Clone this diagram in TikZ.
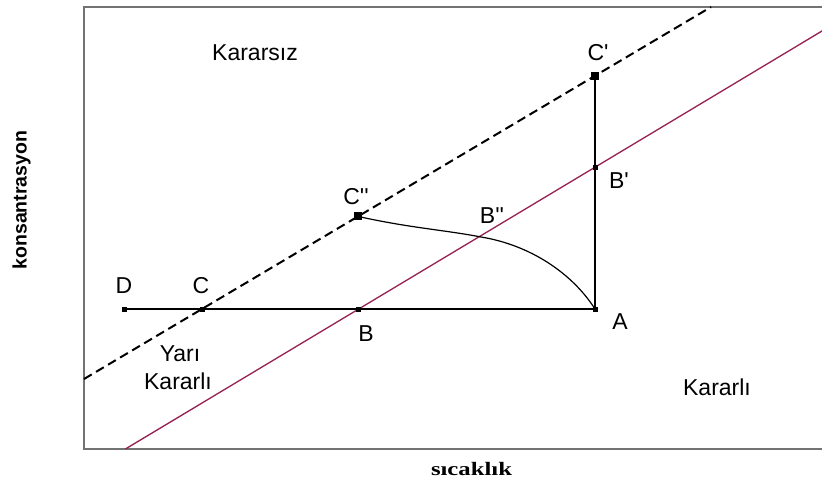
\documentclass[tikz,border=0pt]{standalone}
\usepackage{fontspec}
\setmainfont{Liberation Sans}
\newfontfamily\axserif[FakeStretch=1.3]{Liberation Serif}
\definecolor{redline}{RGB}{150,30,80}
\begin{document}
\begin{tikzpicture}[x=1pt,y=-1pt,
  lab/.style={anchor=base, font=\fontsize{23}{25}\selectfont, inner sep=0pt},
  sqs/.style={rectangle, fill=black, draw=none, minimum size=5pt, inner sep=0pt},
  sqb/.style={rectangle, fill=black, draw=none, minimum size=8pt, inner sep=0pt},
  frame/.style={draw=black!55, line width=1.2pt},
  solid line/.style={draw=black, line width=1.4pt},
  dash line/.style={draw=black, line width=2pt, dash pattern=on 9pt off 5pt},
  red line/.style={draw=redline, line width=1.3pt}
]
\useasboundingbox (0,0) rectangle (822,479);
\clip (0,0) rectangle (822,479);
\fill[white] (0,0) rectangle (822,479);

% frame
\coordinate (f1) at (840,7);
\coordinate (f2) at (84,7);
\coordinate (f3) at (84,449);
\coordinate (f4) at (840,449);
\draw[frame] (f1) -- (f2) -- (f3) -- (f4);

% line ends
\coordinate (dl) at (84,379);
\coordinate (dr) at (711,7);
\coordinate (rl) at (125.4,449);
\coordinate (rr) at (835,23.2);
\coordinate (Bpp) at (481,237);

% points
\node[sqs] (D) at (124,309) {};
\node[sqs] (C) at (202,309) {};
\node[sqs] (B) at (358.7,309) {};
\node[sqs] (A) at (595,309) {};
\node[sqs] (Bp) at (595,167.2) {};
\node[sqb] (Cp) at (595,75.8) {};
\node[sqb] (Cpp) at (358,216.4) {};

% lines
\draw[red line] (rl) -- (rr);
\draw[dash line] (dl) -- (dr);
\draw[solid line] (D.center) -- (A.center);
\draw[solid line] (A.center) -- (Cp.center);
\draw[draw=black, line width=1.2pt] (Cpp.center) .. controls (410,228) and (445,230) .. (Bpp)
   .. controls (530,245) and (572,273) .. (A.center);

% redraw markers on top
\node[sqs] at (D) {};
\node[sqs] at (C) {};
\node[sqs] at (B) {};
\node[sqs] at (A) {};
\node[sqs] at (Bp) {};
\node[sqb] at (Cp) {};
\node[sqb] at (Cpp) {};

% labels
\node[lab] (lD) at (124,293) {D};
\node[lab] (lC) at (201,293) {C};
\node[lab] (lB) at (366,341) {B};
\node[lab] (lA) at (620,329) {A};
\node[lab] (lBp) at (619,188.3) {B\textquotesingle};
\node[lab] (lCp) at (598,60.7) {C\textquotesingle};
\node[lab] (lCpp) at (356,204) {C\textquotesingle\textquotesingle};
\node[lab] (lBpp) at (492,223.3) {B\textquotesingle\textquotesingle};

\node[lab] (kararsiz) at (255,60) {Kararsız};
\node[lab] (yari1) at (180,361.7) {Yarı};
\node[lab] (yari2) at (178,389.3) {Kararlı};
\node[lab] (kararli) at (717,395.7) {Kararlı};

\node[anchor=base, inner sep=0pt, rotate=90, font=\fontsize{19.5}{22}\selectfont\bfseries] (ylab) at (26.7,200) {konsantrasyon};
\node[anchor=base, inner sep=0pt, font=\axserif\fontsize{19}{22}\selectfont\bfseries] (xlab) at (471.5,475) {sıcaklık};
\end{tikzpicture}
\end{document}
